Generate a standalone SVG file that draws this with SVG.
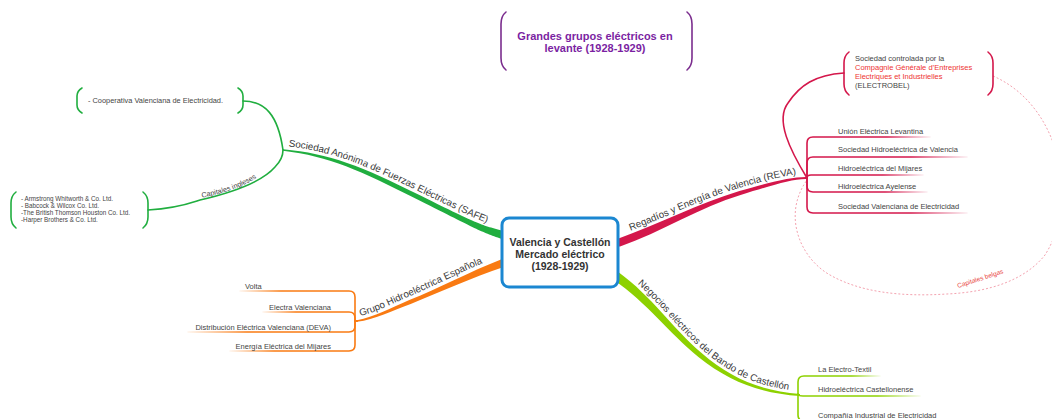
<svg xmlns="http://www.w3.org/2000/svg" width="1052" height="419" viewBox="0 0 1052 419">
<style>
text{font-family:"Liberation Sans",Arial,sans-serif;}
.bl{font-size:9.8px;fill:#3a3a3a;}
.it{font-size:7.5px;fill:#444;}
.sm{font-size:6.3px;fill:#444;}
.br{fill:none;stroke-width:1.6;stroke-linecap:round;}
.ln{fill:none;stroke-width:1.6;stroke-linecap:round;}
</style>
<defs>
<linearGradient id="gR" x1="0" y1="0" x2="1" y2="0"><stop offset="0" stop-color="#d4174b"/><stop offset="0.65" stop-color="#d4174b"/><stop offset="1" stop-color="#d4174b" stop-opacity="0.08"/></linearGradient>
<linearGradient id="gL" x1="0" y1="0" x2="1" y2="0"><stop offset="0" stop-color="#8dd100"/><stop offset="0.65" stop-color="#8dd100"/><stop offset="1" stop-color="#8dd100" stop-opacity="0.08"/></linearGradient>
<linearGradient id="gO" x1="1" y1="0" x2="0" y2="0"><stop offset="0" stop-color="#f97a12"/><stop offset="0.65" stop-color="#f97a12"/><stop offset="1" stop-color="#f97a12" stop-opacity="0.08"/></linearGradient>
<path id="tpSAFE" d="M283.4,146 C331.4,150.7 362.2,163.5 422.5,193.1 C482.7,222.2 482.7,222.2 504.1,228.3"/>
<path id="tpREVA" d="M615.5,236 C656.8,222.3 697.9,199.9 738.6,188.2 C769.1,179.6 789.6,174 806,174"/>
<path id="tpGHE" d="M356.3,316.7 C372.9,314 388.2,305.4 408,296.9 C437.3,284.7 467.6,268.4 500.5,256"/>
<path id="tpCAS" d="M620.4,269.9 C654.2,294.4 673.7,325.3 703.5,350.8 C732.5,375.7 760.9,387.6 800.3,391"/>
<path id="tpING" d="M200,198 C222,194 245,187 262,174"/>
</defs>

<g id="connectors">
  <path fill="#20ae3f" d="M283,149.2 C330,153.5 361,165.8 421,195.8 C481,225.8 481,225 504,231 L502,239 C479,231 479,230.2 419,200.2 C359,170.2 330,156.5 283,150.8 Z"/>
  <path fill="#d4174b" d="M616.6,239.2 C658.6,224.2 699.4,203.1 739.4,191.1 C769.4,182.5 790,177 806,177 L806,179 C790,179.2 770.6,186 740.6,194.9 C700.6,207 661.4,231.8 619.4,246.8 Z"/>
  <path fill="#f97a12" d="M501.6,259.2 C468.8,272 439.2,288 409.3,300.1 C389.5,308.6 374.8,317 356.9,320.2 L357.1,321.8 C375.2,319 390.5,311.4 410.7,303.9 C440.8,292 471.2,278 504.4,266.8 Z"/>
  <path fill="#8dd100" d="M618.6,272.3 C652.2,296.8 671.8,327.6 701.6,353.1 C730.9,378.5 760.2,390.8 800,394 L800,396 C759.8,393.2 729.1,381.5 698.4,356.9 C668.2,332.4 647.8,303.2 613.4,279.7 Z"/>

  <path class="ln" stroke="#20ae3f" d="M243,101 C265,101 278,115 283,150"/>
  <path class="ln" stroke="#20ae3f" d="M283,150 C283,156 280,162 275,167 C262,182 230,193 200,200 L197,201 C185,205 165,209 148,210"/>

  <path class="ln" stroke="#d4174b" d="M807,178 C790,150 775,120 788,103 C800,85 815,75 844,73"/>
  <path fill="none" stroke="#f08a9a" stroke-width="0.8" stroke-dasharray="2,2" d="M993,76 C1060,105 1080,200 1045,255 C1025,280 990,292 947,294 C900,297 860,292 830,275 C800,258 782,215 807,180"/>
  <path class="ln" stroke="url(#gR)" d="M807,178 L807,143 Q807,137 813,137 L930,137"/>
  <path class="ln" stroke="url(#gR)" d="M807,178 L807,163 Q807,157 813,157 L967,157"/>
  <path class="ln" stroke="url(#gR)" d="M807,178 Q807,175 811,175 L923,175"/>
  <path class="ln" stroke="url(#gR)" d="M807,178 L807,186 Q807,192 813,192 L927,192"/>
  <path class="ln" stroke="url(#gR)" d="M807,178 L807,207 Q807,213 813,213 L967,213"/>

  <path class="ln" stroke="url(#gO)" d="M357,321 L355,321 L355,297 Q355,291 349,291 L240,291"/>
  <path class="ln" stroke="url(#gO)" d="M357,321 L355,321 L355,318 Q355,312 349,312 L263,312"/>
  <path class="ln" stroke="url(#gO)" d="M357,321 L355,321 L355,326 Q355,332 349,332 L188,332"/>
  <path class="ln" stroke="url(#gO)" d="M357,321 L355,321 L355,345 Q355,351 349,351 L230,351"/>

  <path class="ln" stroke="url(#gL)" d="M798,394 L798,382 Q798,376 804,376 L880,376"/>
  <path class="ln" stroke="url(#gL)" d="M798,394 Q798,396 803,396 L920,396"/>
  <path class="ln" stroke="url(#gL)" d="M798,394 L798,415 Q798,421 804,421 L970,421"/>

  <text class="bl"><textPath href="#tpSAFE" startOffset="5">Sociedad Anónima de Fuerzas Eléctricas (SAFE)</textPath></text>
  <text class="bl"><textPath href="#tpREVA" startOffset="16">Regadíos y Energía de Valencia (REVA)</textPath></text>
  <text class="bl"><textPath href="#tpGHE" startOffset="4">Grupo Hidroeléctrica Española</textPath></text>
  <text class="bl"><textPath href="#tpCAS" startOffset="22">Negocios eléctricos del Bando de Castellón</textPath></text>
  <text style="font-size:7.2px;fill:#444"><textPath href="#tpING" startOffset="2">Capitales ingleses</textPath></text>
  <text x="958" y="288" transform="rotate(-18 958 288)" style="font-size:6.5px;fill:#e8413c">Capitales belgas</text>
</g>

<g id="title">
  <path class="br" stroke="#7b2d8e" d="M506,12 Q501,16 501,24 L501,58 Q501,66 506,70"/>
  <path class="br" stroke="#7b2d8e" d="M687,12 Q692,16 692,24 L692,58 Q692,66 687,70"/>
  <text x="595" y="39.5" text-anchor="middle" style="font-size:11px;font-weight:bold;fill:#7b1fa2">Grandes grupos eléctricos en</text>
  <text x="595" y="52" text-anchor="middle" style="font-size:11px;font-weight:bold;fill:#7b1fa2">levante (1928-1929)</text>
</g>

<g id="center">
  <rect x="502" y="218" width="116" height="69" rx="7" fill="#fff" stroke="#1b87d1" stroke-width="3"/>
  <text x="560" y="246" text-anchor="middle" style="font-size:10.5px;font-weight:bold;fill:#333">Valencia y Castellón</text>
  <text x="560" y="258" text-anchor="middle" style="font-size:10.5px;font-weight:bold;fill:#333">Mercado eléctrico</text>
  <text x="560" y="270" text-anchor="middle" style="font-size:10.5px;font-weight:bold;fill:#333">(1928-1929)</text>
</g>

<g id="cooperativa">
  <path class="br" stroke="#20ae3f" d="M82,88 Q77,91 77,96 L77,105 Q77,110 82,113"/>
  <path class="br" stroke="#20ae3f" d="M238,88 Q243,91 243,96 L243,105 Q243,110 238,113"/>
  <text x="88" y="103" style="font-size:7.4px;fill:#444">- Cooperativa Valenciana de Electricidad.</text>
</g>

<g id="ingleses">
  <path class="br" stroke="#20ae3f" d="M16,192 Q11,196 11,203 L11,217 Q11,224 16,228"/>
  <path class="br" stroke="#20ae3f" d="M143,192 Q148,196 148,203 L148,217 Q148,224 143,228"/>
  <text class="sm" x="21" y="201">- Armstrong Whitworth &amp; Co. Ltd.</text>
  <text class="sm" x="21" y="208">- Babcock &amp; Wilcox Co. Ltd.</text>
  <text class="sm" x="21" y="215">-The British Thomson Houston Co. Ltd.</text>
  <text class="sm" x="21" y="222">-Harper Brothers &amp; Co. Ltd.</text>
</g>

<g id="electrobel">
  <path class="br" stroke="#d4174b" d="M849,52 Q844,56 844,63 L844,84 Q844,91 849,95"/>
  <path class="br" stroke="#d4174b" d="M988,52 Q993,56 993,63 L993,84 Q993,91 988,95"/>
  <text class="it" x="855" y="61">Sociedad controlada por la</text>
  <text class="it" x="855" y="70" style="fill:#ee3333">Compagnie Générale d’Entreprises</text>
  <text class="it" x="855" y="79" style="fill:#ee3333">Electriques et Industrielles</text>
  <text class="it" x="855" y="88">(ELECTROBEL)</text>
</g>

<g id="reva-items">
  <text class="it" x="838" y="134">Unión Eléctrica Levantina</text>
  <text class="it" x="838" y="152">Sociedad Hidroeléctrica de Valencia</text>
  <text class="it" x="838" y="171">Hidroeléctrica del Mijares</text>
  <text class="it" x="838" y="188.5">Hidroeléctrica Ayelense</text>
  <text class="it" x="838" y="209">Sociedad Valenciana de Electricidad</text>
</g>

<g id="ghe-items">
  <text class="it" x="245" y="289">Volta</text>
  <text class="it" x="331" y="310" text-anchor="end">Electra Valenciana</text>
  <text class="it" x="331" y="330" text-anchor="end">Distribución Eléctrica Valenciana (DEVA)</text>
  <text class="it" x="331" y="349" text-anchor="end">Energía Eléctrica del Mijares</text>
</g>

<g id="castellon-items">
  <text class="it" x="818" y="372">La Electro-Textil</text>
  <text class="it" x="818" y="392">Hidroeléctrica Castellonense</text>
  <text class="it" x="818" y="418">Compañía Industrial de Electricidad</text>
</g>
</svg>
